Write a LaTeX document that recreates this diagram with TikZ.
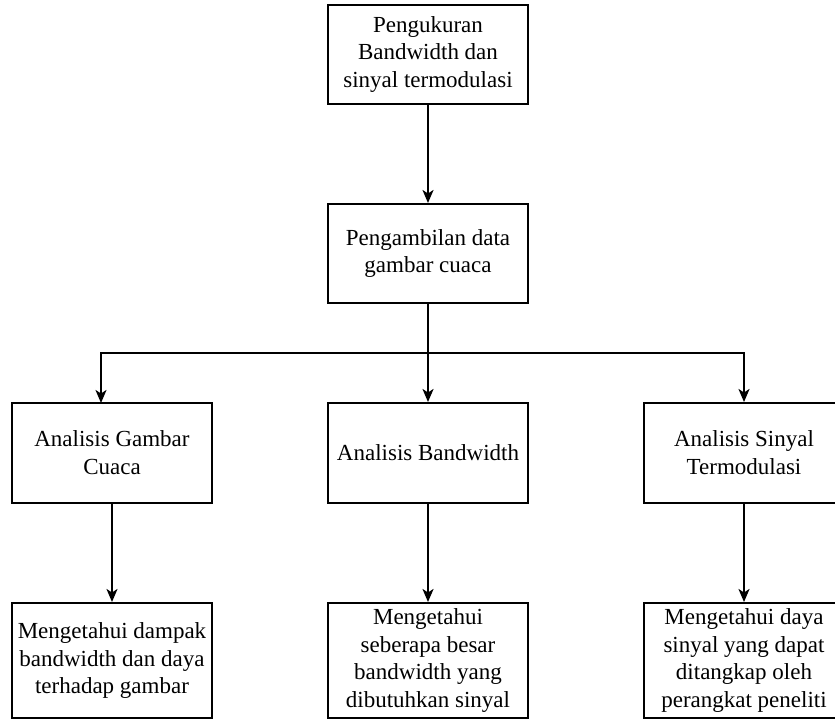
\documentclass[tikz,border=0pt]{standalone}
\usepackage{fontspec}
\setmainfont{Liberation Serif}
\usetikzlibrary{arrows.meta}
\begin{document}
\begin{tikzpicture}[x=1pt,y=-1pt,
  box/.style={draw=black, line width=2pt, fill=white, minimum width=200pt, inner sep=2pt,
    align=center, font=\fontsize{23}{27.8}\selectfont},
  rowa/.style={box, minimum height=100pt},
  rowb/.style={box, minimum height=115pt},
  conn/.style={draw=black, line width=2pt, -{Stealth[length=13pt,width=11pt,inset=3.5pt]}}
]
\useasboundingbox (0,0) rectangle (835,720);
\clip (0,0) rectangle (835,720);
\fill[white] (0,0) rectangle (835,720);

\node[box, minimum height=99pt] (top) at (428,54.5) {Pengukuran\\Bandwidth dan\\sinyal termodulasi};
\node[box, minimum height=99pt] (data) at (428,253.5) {Pengambilan data\\gambar cuaca};

\node[rowa] (a1) at (112,453) {Analisis Gambar\\Cuaca};
\node[rowa] (a2) at (428,453) {Analisis Bandwidth};
\node[rowa] (a3) at (744,453) {Analisis Sinyal\\Termodulasi};

\node[rowb] (b1) at (112,660.5) {Mengetahui dampak\\bandwidth dan daya\\terhadap gambar};
\node[rowb] (b2) at (428,660.5) {Mengetahui\\seberapa besar\\bandwidth yang\\dibutuhkan sinyal};
\node[rowb] (b3) at (744,660.5) {Mengetahui daya\\sinyal yang dapat\\ditangkap oleh\\perangkat peneliti};

\coordinate (j) at (428,353);
\coordinate (a1in) at (101,403);

\draw[conn] (top.south) -- (data.north);
\draw[conn] (data.south) -- (a2.north);
\draw[conn] (j) -| (a1in);
\draw[conn] (j) -| (a3.north);

\draw[conn] (a1.south) -- (b1.north);
\draw[conn] (a2.south) -- (b2.north);
\draw[conn] (a3.south) -- (b3.north);
\end{tikzpicture}
\end{document}
